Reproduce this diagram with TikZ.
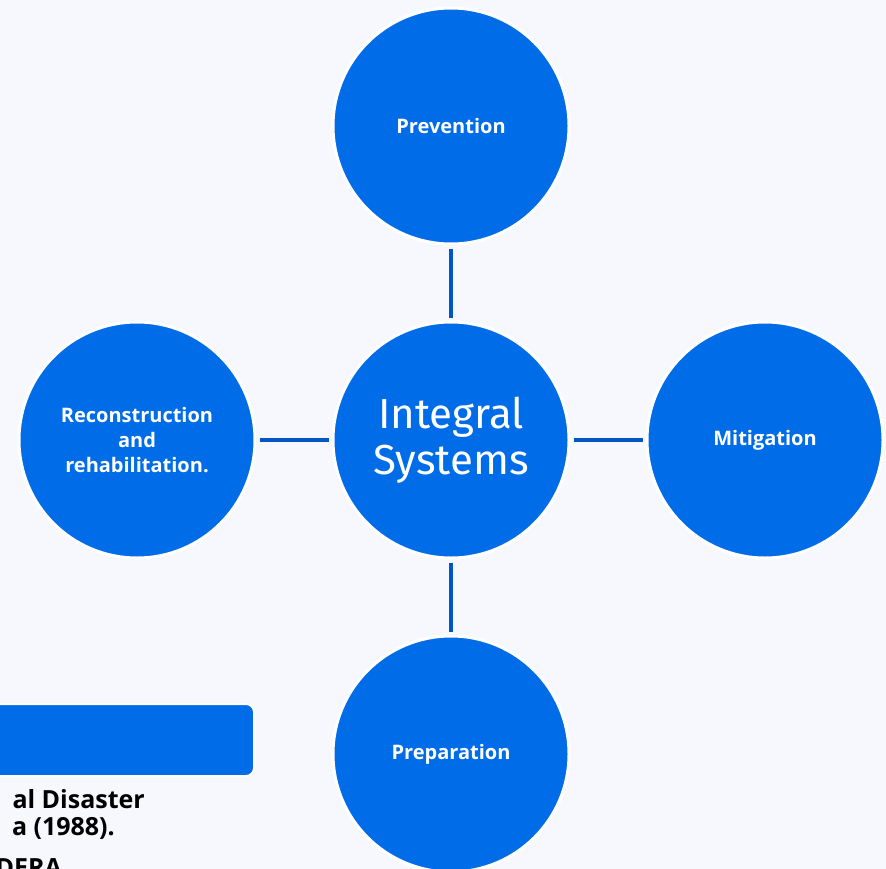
\documentclass[tikz,border=0pt]{standalone}
\usepackage{fontspec}
\setmainfont{Fira Sans}
\newfontfamily\labelfont{Open Sans}
\definecolor{bgpage}{RGB}{247,248,254}
\definecolor{phasefill}{RGB}{0,108,232}
\definecolor{linkblue}{RGB}{0,86,196}
\tikzset{
	phase/.style={circle, fill=phasefill, draw=white, line width=3pt, minimum size=236pt, inner sep=0pt,
		text=white, font=\labelfont\fontsize{20}{25}\selectfont\bfseries, align=center},
	hub/.style={phase, font=\fontsize{42}{46}\selectfont},
	link/.style={linkblue, line width=4pt, shorten <=3pt, shorten >=3pt},
	sourcebar/.style={fill=phasefill, draw=white, line width=2pt, rounded corners=8pt},
	sourcetext/.style={font=\labelfont\fontsize{25}{27}\selectfont\bfseries, text=black, inner sep=0pt}
}
\begin{document}
\begin{tikzpicture}[x=1pt,y=-1pt]
	\fill[bgpage] (0,0) rectangle (886,869);
	\useasboundingbox (0,0) rectangle (886,869);
	\clip (0,0) rectangle (886,869);
	% circles
	\node[hub] (core) at (451,440) {Integral\\Systems};
	\node[phase] (prev) at (451,126) {Prevention};
	\node[phase] (mitig) at (765,440) {Mitigation};
	\node[phase] (prep) at (451,754) {Preparation};
	\node[phase] (recon) at (137,440) {Reconstruction\\and\\rehabilitation.};
	% connectors
	\draw[link] (core) -- (prev);
	\draw[link] (core) -- (mitig);
	\draw[link] (core) -- (prep);
	\draw[link] (core) -- (recon);
	% source box, cut by the page edge
	\draw[sourcebar] (-40,704) rectangle (254,776);
	\node[sourcetext, anchor=base east] (src1) at (145,808) {al Disaster};
	\node[sourcetext, anchor=base east] (src2) at (115,835) {a (1988).};
	\node[sourcetext, anchor=base east] (src3) at (62,876) {DERA};
\end{tikzpicture}
\end{document}
